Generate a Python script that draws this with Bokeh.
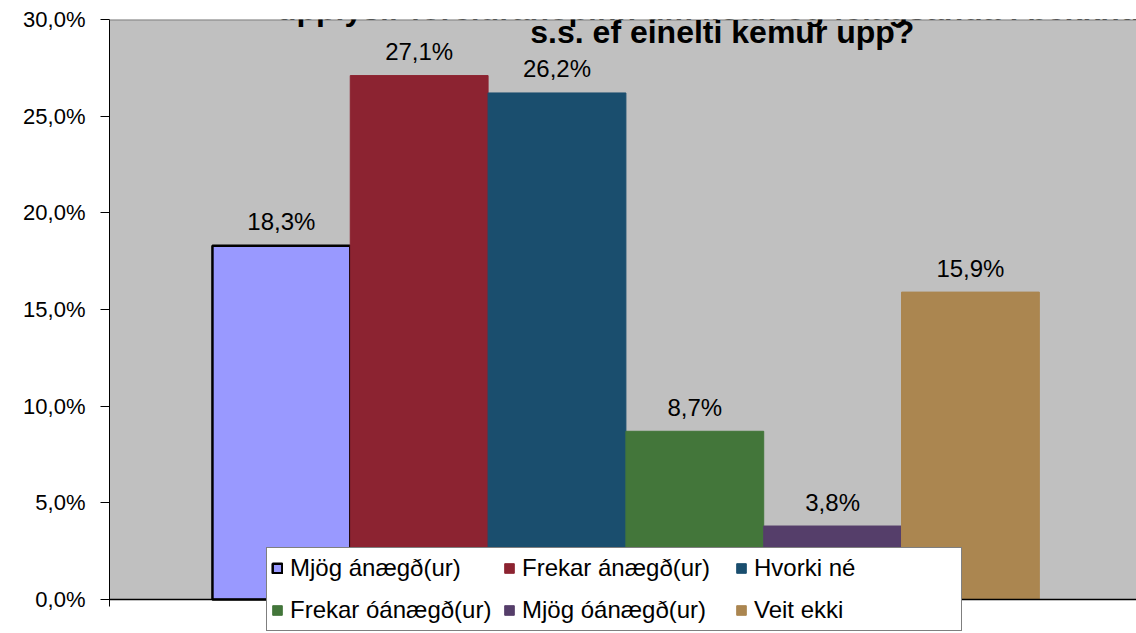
from bokeh.plotting import figure
from bokeh.models import (Range1d, FixedTicker, CustomJSTickFormatter, Legend, LegendItem,
                          Label, ColumnDataSource, BoxAnnotation, Span)
from bokeh.core.properties import value
from bokeh.embed import file_html
from bokeh.resources import INLINE

# ---- data ----
categories = ["Mjög ánægð(ur)", "Frekar ánægð(ur)", "Hvorki né",
              "Frekar óánægð(ur)", "Mjög óánægð(ur)", "Veit ekki"]
values = [18.3, 27.1, 26.2, 8.7, 3.8, 15.9]
value_labels = ["18,3%", "27,1%", "26,2%", "8,7%", "3,8%", "15,9%"]
colors = ["#9999FF", "#8C2331", "#1A4E6E", "#43763A", "#553E6A", "#AB8650"]
y_ticks = [0, 5, 10, 15, 20, 25, 30]
title_lines = ["upplýsir foreldrahópinn um líðan og félagsanda í bekknum",
               "s.s. ef einelti kemur upp?"]

FONT = "Liberation Sans"
Y_MAX = 30

x_pos = [i + 0.5 for i in range(len(values))]
line_colors = ["black"] + colors[1:]
line_widths = [2.5] + [1] * (len(values) - 1)

src = ColumnDataSource(dict(x=x_pos, top=values, color=colors, lc=line_colors,
                            lw=line_widths, lab=value_labels))

x_start, x_end = -0.747, 6.705
y_start = -1.759
p = figure(width=1136, height=633, output_backend="svg", toolbar_location=None,
           x_range=Range1d(x_start, x_end), y_range=Range1d(y_start, Y_MAX),
           min_border_left=109, min_border_top=19, min_border_bottom=0,
           min_border_right=0, background_fill_color="white",
           border_fill_color="white", outline_line_color=None)

# plot area (gray) only above the zero line
p.add_layout(BoxAnnotation(bottom=0, top=Y_MAX, fill_color="#C0C0C0", fill_alpha=1,
                           line_color=None, level="underlay"))

p.xgrid.grid_line_color = None
p.ygrid.ticker = FixedTicker(ticks=y_ticks[:-1])
p.ygrid.grid_line_color = "black"
p.ygrid.grid_line_width = 1
p.add_layout(Span(location=Y_MAX, dimension="width", line_color="#808080",
                  line_width=2))

r = p.vbar(x="x", top="top", width=1.0, bottom=0, fill_color="color",
           line_color="lc", line_width="lw", source=src)

p.text(x="x", y="top", text="lab", source=src, text_align="center",
       text_baseline="alphabetic", y_offset=-24, text_font=value(FONT),
       text_font_size="24px", text_color="black")

p.add_layout(Span(location=0, dimension="width", line_color="black", line_width=1.5))

# axes
p.xaxis.visible = False
p.yaxis.ticker = FixedTicker(ticks=y_ticks)
p.yaxis.bounds = (-0.35, Y_MAX)
p.yaxis.formatter = CustomJSTickFormatter(
    code="return tick.toFixed(1).replace('.', ',') + '%';")
p.yaxis.major_label_text_font = FONT
p.yaxis.major_label_text_font_size = "22px"
p.yaxis.major_label_text_color = "black"
p.yaxis.major_label_standoff = 15
p.yaxis.major_tick_in = 0
p.yaxis.major_tick_out = 9
p.yaxis.minor_tick_line_color = None
p.yaxis.axis_line_color = "black"
p.yaxis.major_tick_line_color = "black"

# title (first line cut at the top, like the reference)
for line, yv in zip(title_lines, [30.55, 29.35]):
    p.add_layout(Label(x=3.70, y=yv, text=line, text_align="center",
                       text_baseline="alphabetic", text_font=FONT,
                       text_font_size="32px", text_font_style="bold",
                       text_color="black"))

items = [LegendItem(label=c, renderers=[r], index=i) for i, c in enumerate(categories)]
legend = Legend(items=items, orientation="horizontal", ncols=3,
                location=(157, 2), label_text_font=FONT,
                label_text_font_size="24px", label_text_color="black",
                glyph_width=12, glyph_height=12, label_standoff=7,
                label_height=32, label_width=203, spacing=10, padding=4, margin=0,
                border_line_color="black", border_line_width=1,
                background_fill_color="white", background_fill_alpha=1)
p.add_layout(legend, "center")

open("out.html", "w").write(file_html(p, INLINE))
